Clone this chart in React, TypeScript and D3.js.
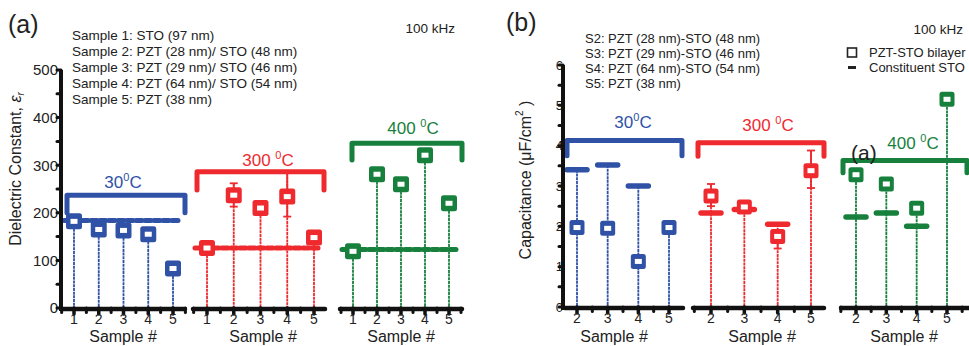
import React from 'react';
import * as d3 from 'd3';

const BLUE = '#2f52a7';
const RED = '#ee2a2f';
const GREEN = '#17803d';

// ---------- Panel (a) data ----------
const samplesA = [1, 2, 3, 4, 5];
const epsA30 = [182, 165, 163, 155, 83];
const epsA300 = [126, 237, 210, 234, 148];
const epsA400 = [119, 281, 260, 321, 220];
const stoA = [184, 126, 123];
const errA30Lo = [null, null, null, null, null];
const errA30Hi = [null, null, null, null, null];
const errA300Lo = [null, 213, null, 192, null];
const errA300Hi = [null, 262, null, 284, null];
const errA400Lo = [null, null, null, null, null];
const errA400Hi = [null, null, null, null, null];
const yTicksA = [0, 100, 200, 300, 400, 500];
const bracketA = [
  [237, 200],
  [286, 248],
  [346, 311],
];
const tempLabels = ['30', '300 ', '400 '];
const textA = [
  'Sample 1: STO (97 nm)',
  'Sample 2: PZT (28 nm)/ STO (48 nm)',
  'Sample 3: PZT (29 nm)/ STO (46 nm)',
  'Sample 4: PZT (64 nm)/ STO (54 nm)',
  'Sample 5: PZT (38 nm)',
];

// ---------- Panel (b) data ----------
const samplesB = [2, 3, 4, 5];
const capB30 = [1.97, 1.95, 1.13, 1.97];
const stoB30 = [3.4, 3.52, 3.0, null];
const capB300 = [2.75, 2.48, 1.75, 3.38];
const stoB300 = [2.33, 2.42, 2.05, null];
const errB300Lo = [2.5, null, 1.45, 2.95];
const errB300Hi = [3.05, null, 1.8, 3.88];
const capB400 = [3.28, 3.05, 2.45, 5.15];
const stoB400 = [2.23, 2.33, 2.0, null];
const errNoneB = [null, null, null, null];
const yTicksB = [0, 1, 2, 3, 4, 5, 6];
const bracketB = [
  [4.13, 3.75],
  [4.07, 3.74],
  [3.63, 3.33],
];
const textB = [
  'S2: PZT (28 nm)-STO (48 nm)',
  'S3: PZT (29 nm)-STO (46 nm)',
  'S4: PZT (64 nm)-STO (54 nm)',
  'S5: PZT (38 nm)',
];

// ---------- layout ----------
const FONT = '"Liberation Sans", Arial, Helvetica, sans-serif';
const yA = d3.scaleLinear().domain([0, 500]).range([308, 70]);
const yB = d3.scaleLinear().domain([0, 6]).range([307, 65]);

const layoutA = [
  { tick: [74, 173], axis: [62, 185], bracketX: [67, 185], label: [123, 188], sample: 123 },
  { tick: [207, 314], axis: [193, 325], bracketX: [197, 324], label: [268, 166], sample: 263 },
  { tick: [353, 449], axis: [340, 462], bracketX: [352, 462], label: [413, 134], sample: 401 },
];
const layoutB = [
  { tick: [577, 669], axis: [565, 683], bracketX: [567, 682], label: [633, 128], sample: 614 },
  { tick: [711, 811], axis: [693, 824], bracketX: [698, 824], label: [768, 131], sample: 762 },
  { tick: [856, 947], axis: [841, 969], bracketX: [843, 967], label: [913, 149], sample: 904 },
];

type G = {
  color: string;
  samples: number[];
  vals: number[];
  sto: (number | null)[] | number;
  lo: (number | null)[];
  hi: (number | null)[];
  bracket: number[];
  temp: string;
  lay: any;
  y: d3.ScaleLinear<number, number>;
  panel: 'a' | 'b';
};

function Marker({ x, y, color, s }: { x: number; y: number; color: string; s: number }) {
  return (
    <g transform={`translate(${x},${y})`}>
      <rect x={-s / 2} y={-s / 2} width={s} height={s} rx={2.5} fill={color} />
      <rect x={-3.5} y={-2.5} width={7} height={5} fill="#fff" />
    </g>
  );
}

function Group({ g }: { g: G }) {
  const { color, samples, vals, sto, lo, hi, bracket, temp, lay, y } = g;
  const x = d3.scaleLinear().domain([samples[0], samples[samples.length - 1]]).range(lay.tick);
  const y0 = y(0);
  const minors: number[] = [];
  for (let v = samples[0] - 0.5; v <= samples[samples.length - 1] + 0.5; v += 0.5) {
    const px = x(v);
    if (px >= lay.axis[0] - 1 && px <= lay.axis[1] + 1 && !samples.includes(v)) minors.push(px);
  }
  const [bt, be] = bracket;
  const [bx1, bx2] = lay.bracketX;
  return (
    <g>
      {/* stems */}
      {samples.map((s, i) => {
        const tops = [vals[i]];
        if (Array.isArray(sto) && sto[i] != null) tops.push(sto[i] as number);
        if (hi[i] != null) tops.push(hi[i] as number);
        const top = Math.max(...tops);
        return (
          <line key={'st' + i} x1={x(s)} x2={x(s)} y1={y(top)} y2={y0}
            stroke={color} strokeWidth={1.8} strokeDasharray="3 0.7" />
        );
      })}
      {/* error bars */}
      {samples.map((s, i) =>
        lo[i] != null && hi[i] != null ? (
          <g key={'e' + i} stroke={color} strokeWidth={1.8}>
            <line x1={x(s)} x2={x(s)} y1={y(hi[i] as number)} y2={y(lo[i] as number)} />
            <line x1={x(s) - 4} x2={x(s) + 4} y1={y(hi[i] as number)} y2={y(hi[i] as number)} />
            <line x1={x(s) - 4} x2={x(s) + 4} y1={y(lo[i] as number)} y2={y(lo[i] as number)} />
          </g>
        ) : null
      )}
      {/* constituent STO reference */}
      {typeof sto === 'number' ? (
        <line x1={lay.axis[0] + 2} x2={lay.axis[1] - 6} y1={y(sto)} y2={y(sto)}
          stroke={color} strokeWidth={5} strokeDasharray="6 3" strokeLinecap="round" />
      ) : (
        samples.map((s, i) =>
          sto[i] != null ? (
            <line key={'b' + i} x1={x(s) - 10} x2={x(s) + 10} y1={y(sto[i] as number)} y2={y(sto[i] as number)}
              stroke={color} strokeWidth={5.5} strokeLinecap="round" />
          ) : null
        )
      )}
      {/* markers */}
      {samples.map((s, i) => (
        <Marker key={'m' + i} x={x(s)} y={y(vals[i])} color={color} s={g.panel === 'a' ? 16 : 15} />
      ))}
      {/* bracket */}
      <path d={`M${bx1},${y(be)}L${bx1},${y(bt)}L${bx2},${y(bt)}L${bx2},${y(be)}`}
        fill="none" stroke={color} strokeWidth={5} strokeLinejoin="round" strokeLinecap="round" />
      <text x={lay.label[0]} y={lay.label[1]} fill={color} fontSize={17} textAnchor="middle" fontFamily={FONT}>
        {temp}
        <tspan dy={-7} fontSize={11}>0</tspan>
        <tspan dy={7}>C</tspan>
      </text>
      {/* x axis */}
      <line x1={lay.axis[0]} x2={lay.axis[1]} y1={y0 + 1} y2={y0 + 1} stroke="#111" strokeWidth={4.5} strokeLinecap="round" />
      {samples.map((s) => (
        <line key={'t' + s} x1={x(s)} x2={x(s)} y1={y0} y2={y0 + 6} stroke="#111" strokeWidth={3.5} strokeLinecap="round" />
      ))}
      {minors.map((px, i) => (
        <line key={'mt' + i} x1={px} x2={px} y1={y0} y2={y0 + 4.5} stroke="#111" strokeWidth={3} strokeLinecap="round" />
      ))}
      {samples.map((s) => (
        <text key={'tl' + s} x={x(s)} y={y0 + 16} fontSize={14} textAnchor="middle" fontFamily={FONT} fill="#222">
          {s}
        </text>
      ))}
      <text x={lay.sample} y={342} fontSize={16} textAnchor="middle" fontFamily={FONT} fill="#222">
        Sample #
      </text>
    </g>
  );
}

function YAxis({ y, ticks, x0, minorStep, fontSize, labelDx }: any) {
  const [d0, d1] = y.domain();
  const minors: number[] = [];
  for (let v = d0; v <= d1 + 1e-9; v += minorStep) minors.push(v);
  return (
    <g>
      {ticks.map((v: number) => (
        <text key={v} x={x0 + labelDx} y={y(v) + fontSize * 0.36} fontSize={fontSize} textAnchor="end" fontFamily={FONT} fill="#222">
          {v}
        </text>
      ))}
      <line x1={x0} x2={x0} y1={y(d1)} y2={y(d0) + 3} stroke="#111" strokeWidth={4} />
      {minors.map((v, i) => (
        <line key={i} x1={x0 - 4} x2={x0} y1={y(v)} y2={y(v)} stroke="#111" strokeWidth={3} strokeLinecap="round" />
      ))}
    </g>
  );
}

export default function App() {
  const groupsA: G[] = [
    { color: BLUE, samples: samplesA, vals: epsA30, sto: stoA[0], lo: errA30Lo, hi: errA30Hi, bracket: bracketA[0], temp: tempLabels[0], lay: layoutA[0], y: yA, panel: 'a' },
    { color: RED, samples: samplesA, vals: epsA300, sto: stoA[1], lo: errA300Lo, hi: errA300Hi, bracket: bracketA[1], temp: tempLabels[1], lay: layoutA[1], y: yA, panel: 'a' },
    { color: GREEN, samples: samplesA, vals: epsA400, sto: stoA[2], lo: errA400Lo, hi: errA400Hi, bracket: bracketA[2], temp: tempLabels[2], lay: layoutA[2], y: yA, panel: 'a' },
  ];
  const groupsB: G[] = [
    { color: BLUE, samples: samplesB, vals: capB30, sto: stoB30, lo: errNoneB, hi: errNoneB, bracket: bracketB[0], temp: tempLabels[0], lay: layoutB[0], y: yB, panel: 'b' },
    { color: RED, samples: samplesB, vals: capB300, sto: stoB300, lo: errB300Lo, hi: errB300Hi, bracket: bracketB[1], temp: tempLabels[1], lay: layoutB[1], y: yB, panel: 'b' },
    { color: GREEN, samples: samplesB, vals: capB400, sto: stoB400, lo: errNoneB, hi: errNoneB, bracket: bracketB[2], temp: tempLabels[2], lay: layoutB[2], y: yB, panel: 'b' },
  ];
  return (
    <svg width={969} height={346} style={{ position: 'absolute', left: 0, top: 0, background: '#fff' }}
      fontFamily={FONT}>
      {/* Panel (a) */}
      <text x={8} y={33} fontSize={25} fill="#222">(a)</text>
      {textA.map((t, i) => (
        <text key={i} x={72} y={40 + i * 16} fontSize={13.5} fill="#222">{t}</text>
      ))}
      <text x={455} y={33} fontSize={13.5} textAnchor="end" fill="#222">100 kHz</text>
      <text transform="translate(21,169) rotate(-90)" fontSize={16} textAnchor="middle" fill="#222">
        Dielectric Constant, <tspan fontStyle="italic">ε</tspan>
        <tspan fontSize={10} dy={3} fontStyle="italic">r</tspan>
      </text>
      {groupsA.map((g, i) => <Group key={i} g={g} />)}
      <YAxis y={yA} ticks={yTicksA} x0={61} minorStep={50} fontSize={15} labelDx={-3} />

      {/* Panel (b) */}
      <text x={506} y={31} fontSize={25} fill="#222">(b)</text>
      {textB.map((t, i) => (
        <text key={i} x={585} y={42.5 + i * 15.3} fontSize={13} fill="#222">{t}</text>
      ))}
      <text x={963} y={34} fontSize={13.5} textAnchor="end" fill="#222">100 kHz</text>
      <rect x={847.5} y={48} width={9} height={9} fill="none" stroke="#222" strokeWidth={1.6} />
      <text x={869} y={57} fontSize={13} fill="#222">PZT-STO bilayer</text>
      <line x1={848} x2={856} y1={67.5} y2={67.5} stroke="#222" strokeWidth={3} />
      <text x={869} y={72} fontSize={13} fill="#222">Constituent STO</text>
      <text transform="translate(531,180) rotate(-90)" fontSize={16} textAnchor="middle" fill="#222">
        Capacitance (μF/cm
        <tspan fontSize={10} dy={-8}>2</tspan>
        <tspan dy={8}> )</tspan>
      </text>
      {groupsB.map((g, i) => <Group key={i} g={g} />)}
      <YAxis y={yB} ticks={yTicksB} x0={563} minorStep={0.5} fontSize={13} labelDx={0} />
      <text x={851} y={160} fontSize={21} fill="#222">(a)</text>
    </svg>
  );
}
